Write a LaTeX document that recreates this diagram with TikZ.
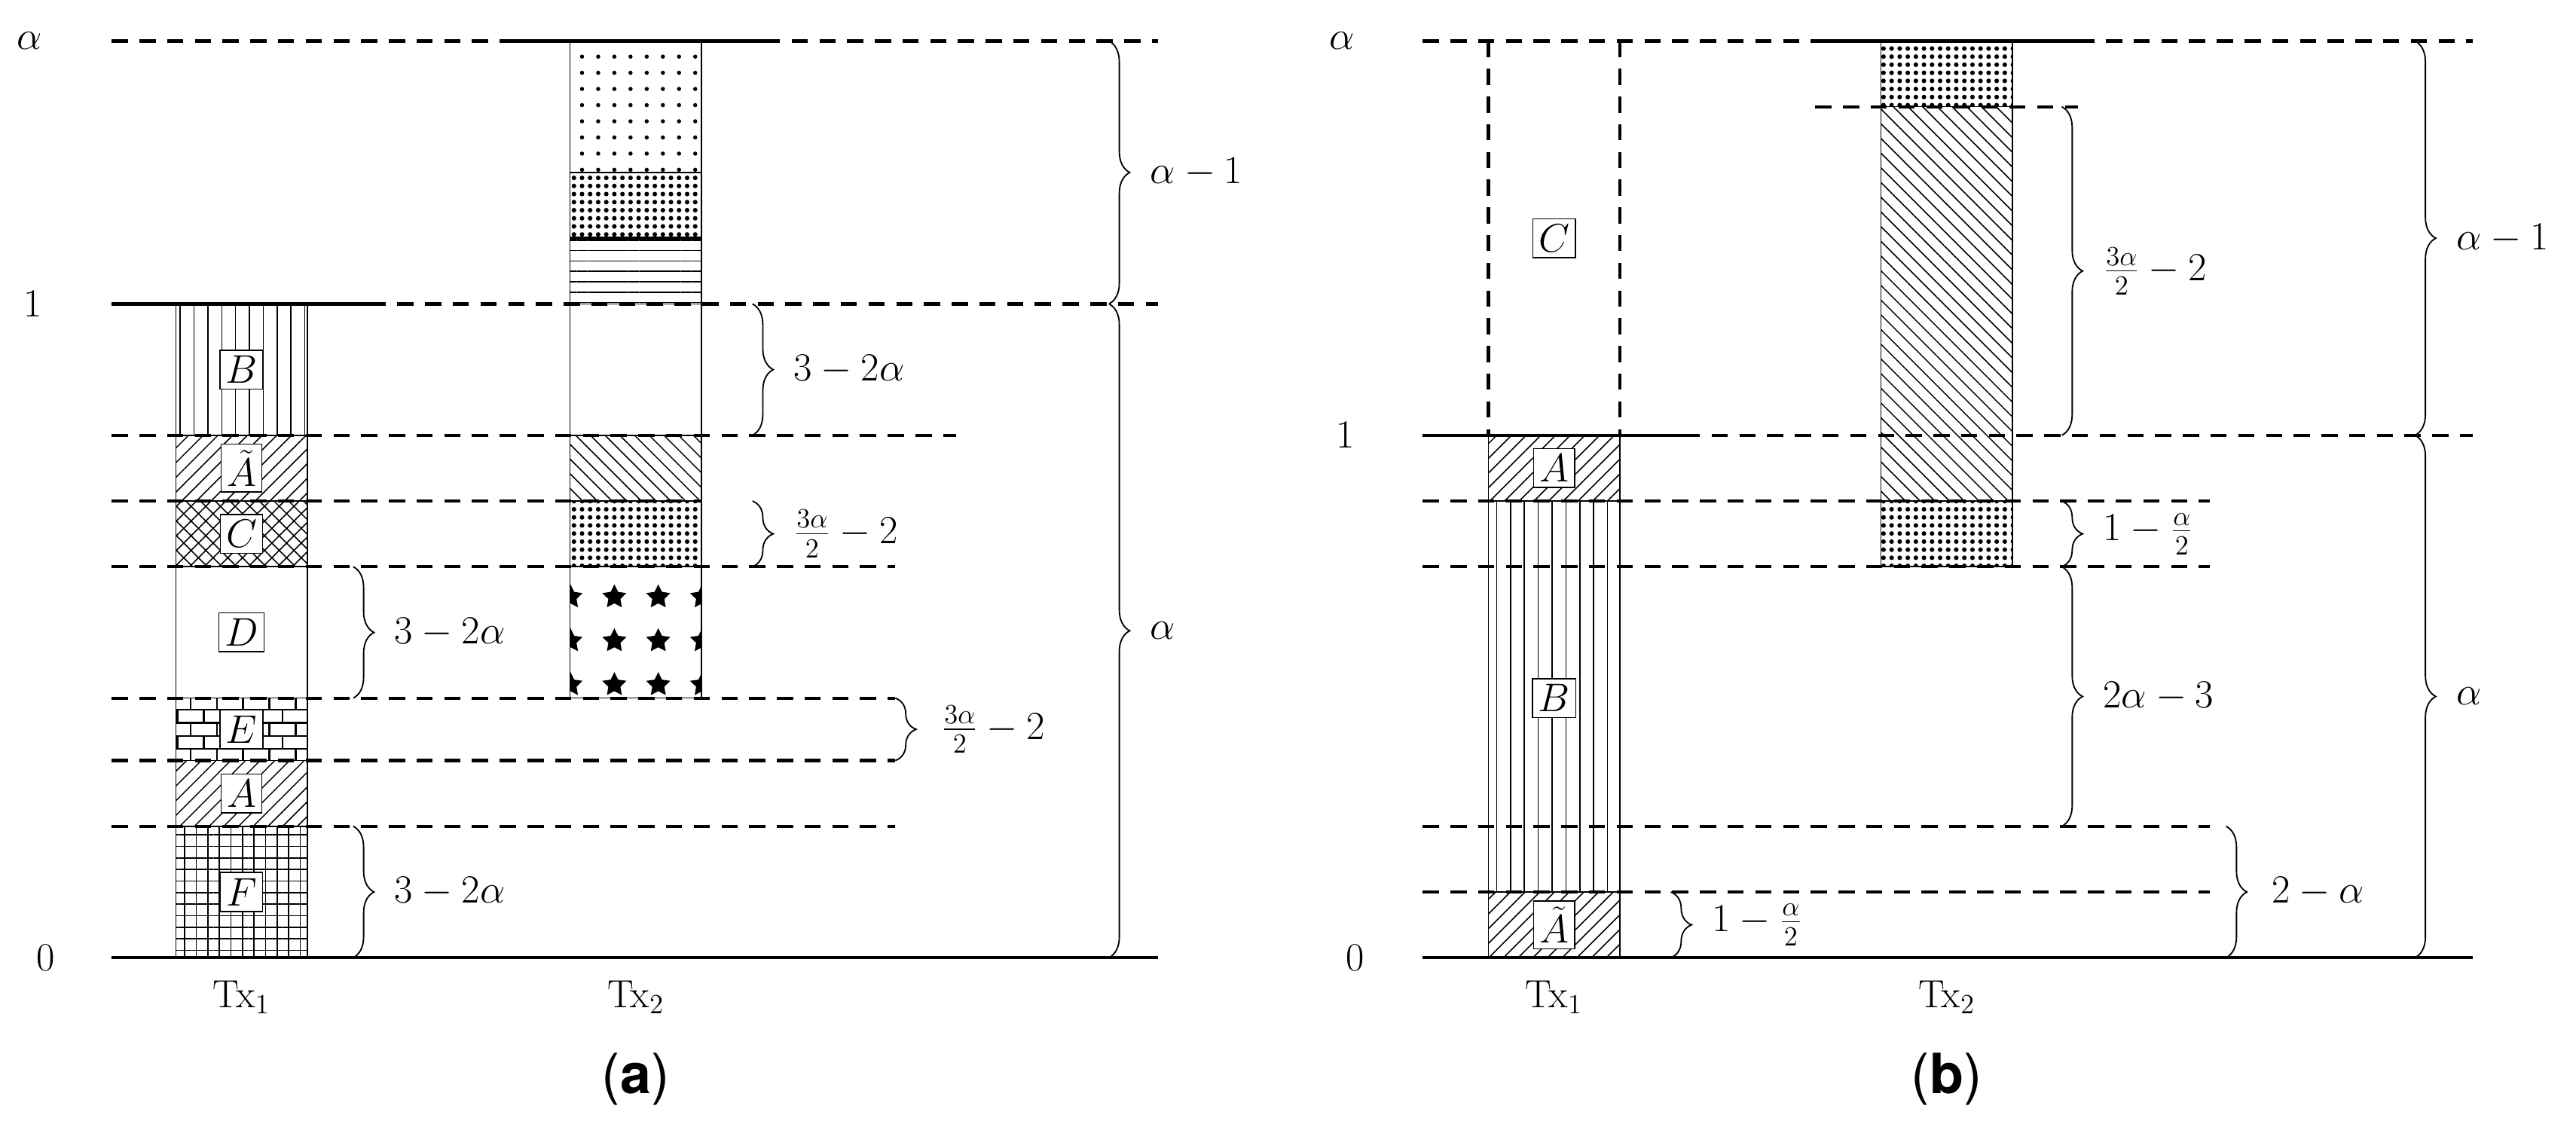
\documentclass[tikz,border=0pt]{standalone}
\usepackage{fontspec}
\newfontfamily\capfont{TeX Gyre Heros}
\usetikzlibrary{patterns,patterns.meta,decorations.pathreplacing}
\begin{document}
\fontsize{17}{20}\selectfont
\begin{tikzpicture}[x=0.25mm,y=-0.25mm,
  dl/.style={line width=1.4pt,dash pattern=on 7pt off 5pt},
  sl/.style={line width=1.4pt},
  col/.style={draw,line width=0.5pt},
  lab/.style={draw,fill=white,inner sep=2.5pt,line width=0.5pt},
  br/.style={decorate,decoration={brace,amplitude=9pt},line width=0.6pt},
  vl/.style={pattern={Lines[angle=90,distance=6pt,line width=0.5pt]}},
  hl/.style={pattern={Lines[angle=0,distance=4.5pt,line width=0.5pt]}},
  ne/.style={pattern={Lines[angle=45,distance=4.5pt,line width=0.5pt]}},
  nw/.style={pattern={Lines[angle=-45,distance=4.5pt,line width=0.5pt]}},
  ch/.style={pattern={Hatch[angle=45,distance=4.5pt,line width=0.5pt]}},
  gr/.style={pattern={Hatch[angle=0,distance=5pt,line width=0.5pt]}},
  sd/.style={pattern={Dots[radius=0.9pt,distance=7pt]}},
  dd/.style={pattern={Dots[radius=1.0pt,distance=3.5pt]}},
  st/.style={pattern={Stars[radius=5.5pt,points=5,distance=19pt]}},
  captxt/.style={font=\capfont\fontsize{24}{28}\selectfont},
]
\useasboundingbox (0,0) rectangle (1568,684);
% ===== panel (a) =====
\path[col,vl] (107,185) rectangle (187,265);
\path[col,ne] (107,265) rectangle (187,305);
\path[col,ch] (107,305) rectangle (187,345);
\path[col] (107,345) rectangle (187,425);
\path[col,pattern=bricks] (107,425) rectangle (187,463);
\path[col,ne] (107,463) rectangle (187,503);
\path[col,gr] (107,503) rectangle (187,583);
\node[lab] (B) at (147,225) {$B$};
\node[lab] (At) at (147,285) {$\tilde{A}$};
\node[lab] (C) at (147,325) {$C$};
\node[lab] (D) at (147,385) {$D$};
\node[lab] (E) at (147,444) {$E$};
\node[lab] (A) at (147,483) {$A$};
\node[lab] (F) at (147,543) {$F$};
\path[col,sd] (347,25) rectangle (427,105);
\path[col,dd] (347,105) rectangle (427,145);
\path[col,hl] (347,145) rectangle (427,185);
\path[col] (347,185) rectangle (427,265);
\path[col,nw] (347,265) rectangle (427,305);
\path[col,dd] (347,305) rectangle (427,345);
\path[col,st] (347,345) rectangle (427,425);
\draw[sl] (347,145)--(427,145);
\draw[dl] (68,25)--(305,25); \draw[sl] (305,25)--(465,25); \draw[dl] (465,25)--(705,25);
\draw[sl] (68,185)--(225,185); \draw[dl] (225,185)--(705,185);
\draw[dl] (68,265)--(582,265);
\draw[dl] (68,305)--(427,305);
\draw[dl] (68,345)--(545,345);
\draw[dl] (68,425)--(545,425);
\draw[dl] (68,463)--(545,463);
\draw[dl] (68,503)--(545,503);
\draw[sl] (68,583)--(705,583);
\draw[br] (215,345)--(215,425) node[midway,right=12pt]{$3-2\alpha$};
\draw[br] (215,503)--(215,583) node[midway,right=12pt]{$3-2\alpha$};
\draw[br] (458,185)--(458,265) node[midway,right=12pt]{$3-2\alpha$};
\draw[br] (458,305)--(458,345) node[midway,right=12pt]{$\frac{3\alpha}{2}-2$};
\draw[br] (545,425)--(545,463) node[midway,right=14pt]{$\frac{3\alpha}{2}-2$};
\draw[br] (675,25)--(675,185) node[midway,right=12pt]{$\alpha-1$};
\draw[br] (675,185)--(675,583) node[midway,right=12pt]{$\alpha$};
\node (la) at (18,25) {$\alpha$};
\node (l1a) at (20,185) {$1$};
\node (l0a) at (28,583) {$0$};
\node (tx1a) at (147,607) {Tx$_1$};
\node (tx2a) at (387,607) {Tx$_2$};
\node[captxt] (capa) at (387,657) {({\bfseries a})};
% ===== panel (b) =====
\draw[dl] (906,25)--(906,265); \draw[dl] (986,25)--(986,265);
\node[lab] (Cb) at (946,145) {$C$};
\path[col,ne] (906,265) rectangle (986,305);
\path[col,vl] (906,305) rectangle (986,543);
\path[col,ne] (906,543) rectangle (986,583);
\node[lab] (Ab) at (946,285) {$A$};
\node[lab] (Bb) at (946,425) {$B$};
\node[lab] (Atb) at (946,563) {$\tilde{A}$};
\path[col,dd] (1145,25) rectangle (1225,65);
\path[col,nw] (1145,65) rectangle (1225,305);
\path[col,dd] (1145,305) rectangle (1225,345);
\draw[dl] (866,25)--(1105,25); \draw[sl] (1105,25)--(1265,25); \draw[dl] (1265,25)--(1505,25);
\draw[dl] (1105,65)--(1265,65);
\draw[sl] (866,265)--(1025,265); \draw[dl] (1025,265)--(1505,265);
\draw[dl] (866,305)--(1345,305);
\draw[dl] (866,345)--(1345,345);
\draw[dl] (866,503)--(1345,503);
\draw[dl] (866,543)--(1345,543);
\draw[sl] (866,583)--(1505,583);
\draw[br] (1255,65)--(1255,265) node[midway,right=12pt]{$\frac{3\alpha}{2}-2$};
\draw[br] (1255,305)--(1255,345) node[midway,right=12pt]{$1-\frac{\alpha}{2}$};
\draw[br] (1255,345)--(1255,503) node[midway,right=12pt]{$2\alpha-3$};
\draw[br] (1355,503)--(1355,583) node[midway,right=14pt]{$2-\alpha$};
\draw[br] (1017,543)--(1017,583) node[midway,right=12pt]{$1-\frac{\alpha}{2}$};
\draw[br] (1470,25)--(1470,265) node[midway,right=12pt]{$\alpha-1$};
\draw[br] (1470,265)--(1470,583) node[midway,right=12pt]{$\alpha$};
\node (lb) at (817,25) {$\alpha$};
\node (l1b) at (819,265) {$1$};
\node (l0b) at (825,583) {$0$};
\node (tx1b) at (946,607) {Tx$_1$};
\node (tx2b) at (1185,607) {Tx$_2$};
\node[captxt] (capb) at (1185,657) {({\bfseries b})};
\end{tikzpicture}
\end{document}
